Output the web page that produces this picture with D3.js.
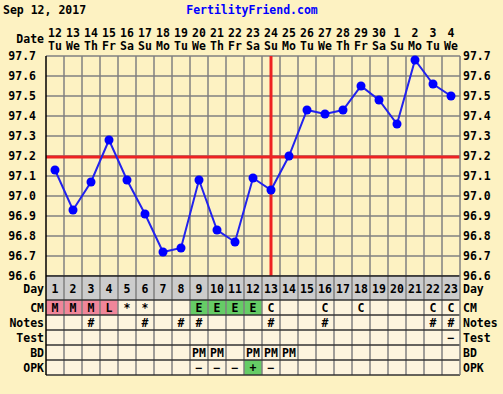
<!DOCTYPE html>
<html>
<head>
<meta charset="utf-8" />
<title>Fertility chart</title>
<script src="https://cdnjs.cloudflare.com/ajax/libs/d3/7.8.5/d3.min.js"></script>
<style>
  html, body { margin: 0; background: #fdf2c2; }
  svg { display: block; }
  text { font-family: "DejaVu Sans Mono", monospace; font-weight: bold; font-size: 11.5px; }
</style>
</head>
<body>
<svg id="chart" width="503" height="394"></svg>
<script>
// data
var cycleDays = d3.range(1, 24);
var dates = ["12","13","14","15","16","17","18","19","20","21","22","23","24","25","26","27","28","29","30","1","2","3","4"];
var weekdays = ["Tu","We","Th","Fr","Sa","Su","Mo","Tu","We","Th","Fr","Sa","Su","Mo","Tu","We","Th","Fr","Sa","Su","Mo","Tu","We"];
var temps = [97.13, 96.93, 97.07, 97.28, 97.08, 96.91, 96.72, 96.74, 97.08, 96.83, 96.77, 97.09,
             97.03, 97.20, 97.43, 97.41, 97.43, 97.55, 97.48, 97.36, 97.68, 97.56, 97.50];
var yTicks = [96.6, 96.7, 96.8, 96.9, 97.0, 97.1, 97.2, 97.3, 97.4, 97.5, 97.6, 97.7];
var coverline = 97.2;
var ovulationDay = 13;

var cm =    ["M","M","M","L","*","*","","","E","E","E","E","C","","","C","","C","","","","C","C"];
var notes = ["","","#","","","#","","#","#","","","","#","","","#","","","","","","#","#"];
var test =  ["","","","","","","","","","","","","","","","","","","","","","","\u2212"];
var bd =    ["","","","","","","","","PM","PM","","PM","PM","PM","","","","","","","","",""];
var opk =   ["","","","","","","","","\u2212","\u2212","\u2212","+","\u2212","","","","","","","","","",""];

var cmColor = { M: "#f0869a", L: "#f0869a", E: "#66cc66" };
var opkColor = { "+": "#66cc66" };

var svg = d3.select("#chart");
var plotL = 46, plotR = 460, plotT = 56, plotB = 276;

var x = d3.scaleBand().domain(cycleDays).range([plotL, plotR]);
var y = d3.scaleLinear().domain([96.6, 97.7]).range([plotB, plotT]);
var cx = function(d){ return x(d) + x.bandwidth()/2; };

// header
svg.append("text").attr("x", 3).attr("y", 14).text("Sep 12, 2017");
svg.append("text").attr("x", 252).attr("y", 14).attr("text-anchor", "middle")
    .attr("fill", "#0000ff").text("FertilityFriend.com");
svg.append("text").attr("x", 44).attr("y", 43).attr("text-anchor", "end").text("Date");

svg.selectAll(".date").data(cycleDays).enter().append("text")
    .attr("x", cx).attr("y", 37).attr("text-anchor", "middle")
    .text(function(d, i){ return dates[i]; });
svg.selectAll(".wday").data(cycleDays).enter().append("text")
    .attr("x", cx).attr("y", 50).attr("text-anchor", "middle")
    .text(function(d, i){ return weekdays[i]; });

// grid
var g = svg.append("g");
g.selectAll(".hl").data(yTicks).enter().append("line")
    .attr("x1", plotL).attr("x2", plotR)
    .attr("y1", function(d){ return y(d); }).attr("y2", function(d){ return y(d); })
    .attr("stroke", "#808080").attr("stroke-width", 1.5);
g.selectAll(".vl").data(cycleDays.slice(1)).enter().append("line")
    .attr("x1", function(d){ return x(d); }).attr("x2", function(d){ return x(d); })
    .attr("y1", plotT).attr("y2", plotB)
    .attr("stroke", "#808080").attr("stroke-width", 1.5);

// y labels both sides
svg.selectAll(".yl").data(yTicks).enter().append("text")
    .attr("x", 36).attr("y", function(d){ return y(d) + 4; }).attr("text-anchor", "end")
    .text(function(d){ return d.toFixed(1); });
svg.selectAll(".yr").data(yTicks).enter().append("text")
    .attr("x", 463).attr("y", function(d){ return y(d) + 4; })
    .text(function(d){ return d.toFixed(1); });

// coverline and ovulation line
svg.append("line").attr("x1", plotL).attr("x2", plotR)
    .attr("y1", y(coverline) + 1).attr("y2", y(coverline) + 1)
    .attr("stroke", "#ee2222").attr("stroke-width", 3);
svg.append("line").attr("x1", cx(ovulationDay)).attr("x2", cx(ovulationDay))
    .attr("y1", plotT).attr("y2", plotB)
    .attr("stroke", "#ee2222").attr("stroke-width", 3);

// temperature line
var line = d3.line().x(function(d, i){ return cx(cycleDays[i]); }).y(function(d){ return y(d); });
svg.append("path").datum(temps).attr("d", line)
    .attr("fill", "none").attr("stroke", "#2222ee").attr("stroke-width", 2);
svg.selectAll(".pt").data(temps).enter().append("circle")
    .attr("cx", function(d, i){ return cx(cycleDays[i]); })
    .attr("cy", function(d){ return y(d); })
    .attr("r", 4.5).attr("fill", "#0000ff");

// table
var rows = [
  { label: "CM", vals: cm, colors: cmColor },
  { label: "Notes", vals: notes, colors: {} },
  { label: "Test", vals: test, colors: {} },
  { label: "BD", vals: bd, colors: {} },
  { label: "OPK", vals: opk, colors: opkColor }
];
var dayTop = plotB, dayH = 24, rowH = 15;
var tableBottom = dayTop + dayH + rows.length * rowH;

svg.append("rect").attr("x", plotL).attr("y", dayTop).attr("width", plotR - plotL).attr("height", dayH)
    .attr("fill", "#cccccc");
svg.append("rect").attr("x", plotL).attr("y", dayTop + dayH).attr("width", plotR - plotL)
    .attr("height", rows.length * rowH).attr("fill", "#fdf4de");

svg.selectAll(".dnum").data(cycleDays).enter().append("text")
    .attr("x", cx).attr("y", dayTop + 17).attr("text-anchor", "middle")
    .text(function(d){ return d; });
svg.append("text").attr("x", 44).attr("y", dayTop + 17).attr("text-anchor", "end").text("Day");
svg.append("text").attr("x", 463).attr("y", dayTop + 17).text("Day");

rows.forEach(function(r, ri){
  var ry = dayTop + dayH + ri * rowH;
  svg.selectAll(".c" + ri).data(cycleDays).enter().append("rect")
      .attr("x", function(d){ return x(d); }).attr("y", ry)
      .attr("width", x.bandwidth()).attr("height", rowH)
      .attr("fill", function(d, i){ return r.colors[r.vals[i]] || "none"; });
  svg.selectAll(".t" + ri).data(cycleDays).enter().append("text")
      .attr("x", cx).attr("y", ry + 11.5).attr("text-anchor", "middle")
      .text(function(d, i){ return r.vals[i]; });
  svg.append("text").attr("x", 44).attr("y", ry + 11.5).attr("text-anchor", "end").text(r.label);
  svg.append("text").attr("x", 463).attr("y", ry + 11.5).text(r.label);
});

// table lines
svg.selectAll(".tv").data(cycleDays.slice(1)).enter().append("line")
    .attr("x1", function(d){ return x(d); }).attr("x2", function(d){ return x(d); })
    .attr("y1", dayTop).attr("y2", tableBottom)
    .attr("stroke", "#808080").attr("stroke-width", 1.5);
svg.selectAll(".th").data(d3.range(rows.length + 1)).enter().append("line")
    .attr("x1", plotL).attr("x2", plotR)
    .attr("y1", function(d){ return dayTop + dayH + d * rowH; })
    .attr("y2", function(d){ return dayTop + dayH + d * rowH; })
    .attr("stroke", "#333333").attr("stroke-width", 1.5);
svg.append("line").attr("x1", plotL).attr("x2", plotR).attr("y1", dayTop).attr("y2", dayTop)
    .attr("stroke", "#222222").attr("stroke-width", 1.5);
svg.append("line").attr("x1", plotR).attr("x2", plotR).attr("y1", plotT).attr("y2", tableBottom)
    .attr("stroke", "#808080").attr("stroke-width", 1.5);
svg.append("line").attr("x1", plotL).attr("x2", plotL).attr("y1", plotT).attr("y2", tableBottom)
    .attr("stroke", "#000000").attr("stroke-width", 1.5);
</script>
</body>
</html>
